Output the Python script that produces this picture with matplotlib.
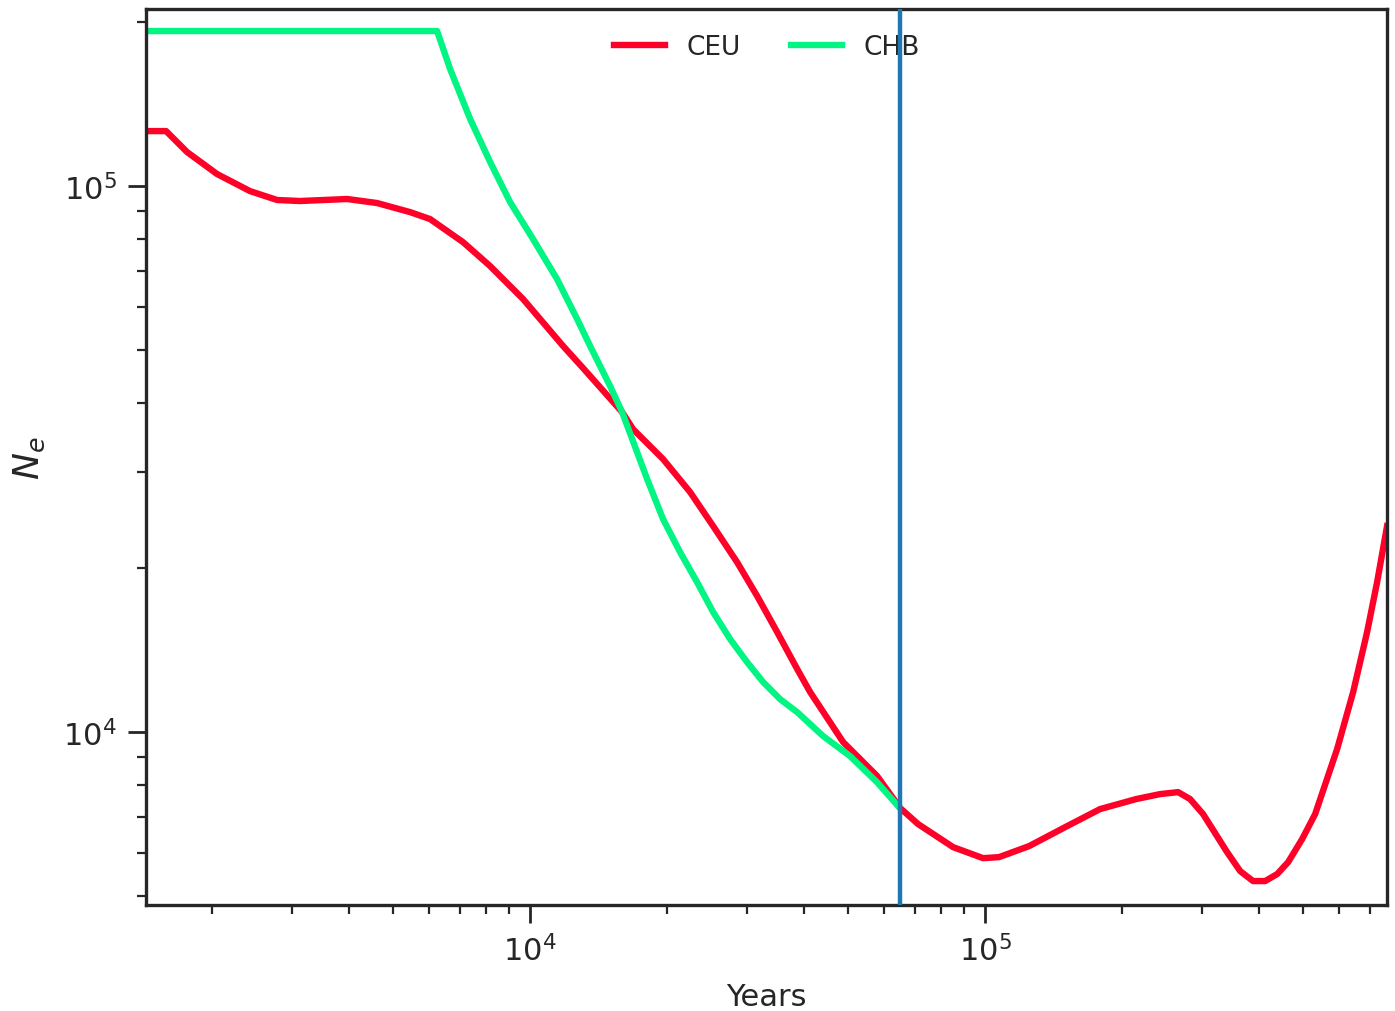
import matplotlib
matplotlib.use("Agg")
import matplotlib.pyplot as plt
from matplotlib.ticker import NullFormatter

# effective population size through time (years ago)
ceu_years = [1432, 1585, 1763, 2052, 2424, 2780, 3122, 3962, 4610, 5450, 6029,
             7124, 8168, 9652, 11820, 13080, 15930, 16840, 19600, 22470, 25250,
             28500, 31550, 34910, 38630, 41250, 48740, 57890, 65060, 71250,
             85050, 98990, 107300, 124900, 151400, 178900, 214700, 242400,
             265600, 282200, 301400, 340300, 363500, 388100, 412500, 438300,
             463400, 497400, 531300, 593800, 644000, 691100, 727000, 764500]
ceu_ne = [126100, 126100, 115400, 105200, 97900, 94300, 93900, 94700, 93100,
          89600, 87010, 78940, 71370, 62100, 50930, 46400, 38560, 35870, 31620,
          27520, 23840, 20480, 17750, 15250, 13050, 11840, 9590, 8310, 7260,
          6785, 6157, 5877, 5903, 6183, 6727, 7228, 7540, 7700, 7765, 7540,
          7077, 6028, 5566, 5336, 5336, 5495, 5779, 6368, 7077, 9310, 11840,
          15250, 18820, 23840]

chb_years = [1432, 6246, 6671, 7382, 8168, 9036, 10150, 11460, 12690, 13550,
             14990, 15930, 18080, 19600, 21360, 23280, 25250, 27520, 29990,
             32520, 35440, 38630, 44060, 50500, 57890, 64400]
chb_ne = [192300, 192300, 163800, 132700, 110700, 93480, 79970, 67550, 57060,
          50930, 43030, 38560, 29070, 24550, 21360, 18820, 16590, 14800, 13430,
          12350, 11490, 10880, 9833, 9037, 8095, 7320]

split_time = 65000

fig = plt.figure(figsize=(13.95, 10.12), dpi=100)
ax = fig.add_axes([0.1047, 0.1047, 0.8896, 0.8854])

ax.plot(ceu_years, ceu_ne, color="#ff0029", lw=4.6, label="CEU")
ax.plot(chb_years, chb_ne, color="#00f582", lw=4.6, label="CHB")
ax.axvline(split_time, color="#1f77b4", lw=3.2, zorder=6)

ax.set_xscale("log")
ax.set_yscale("log")
ax.set_xlim(1432, 764500)
ax.set_ylim(4823, 211000)

ax.set_xlabel("Years", fontsize=22, color="#262626", labelpad=11)
ax.set_ylabel("$N_e$", fontsize=26, color="#262626", labelpad=12)

for side in ax.spines.values():
    side.set_linewidth(2.4)
    side.set_color("#262626")
ax.tick_params(which="major", length=13, width=2, labelsize=22,
               colors="#262626", pad=8)
ax.tick_params(which="minor", length=6.5, width=1.6, colors="#262626")
ax.xaxis.set_minor_formatter(NullFormatter())
ax.yaxis.set_minor_formatter(NullFormatter())

leg = ax.legend(loc="upper center", ncol=2, frameon=False, fontsize=19,
                handlelength=1.95, columnspacing=1.9, borderaxespad=0.55)
for t in leg.get_texts():
    t.set_color("#262626")

fig.savefig("out.png", dpi=100)
